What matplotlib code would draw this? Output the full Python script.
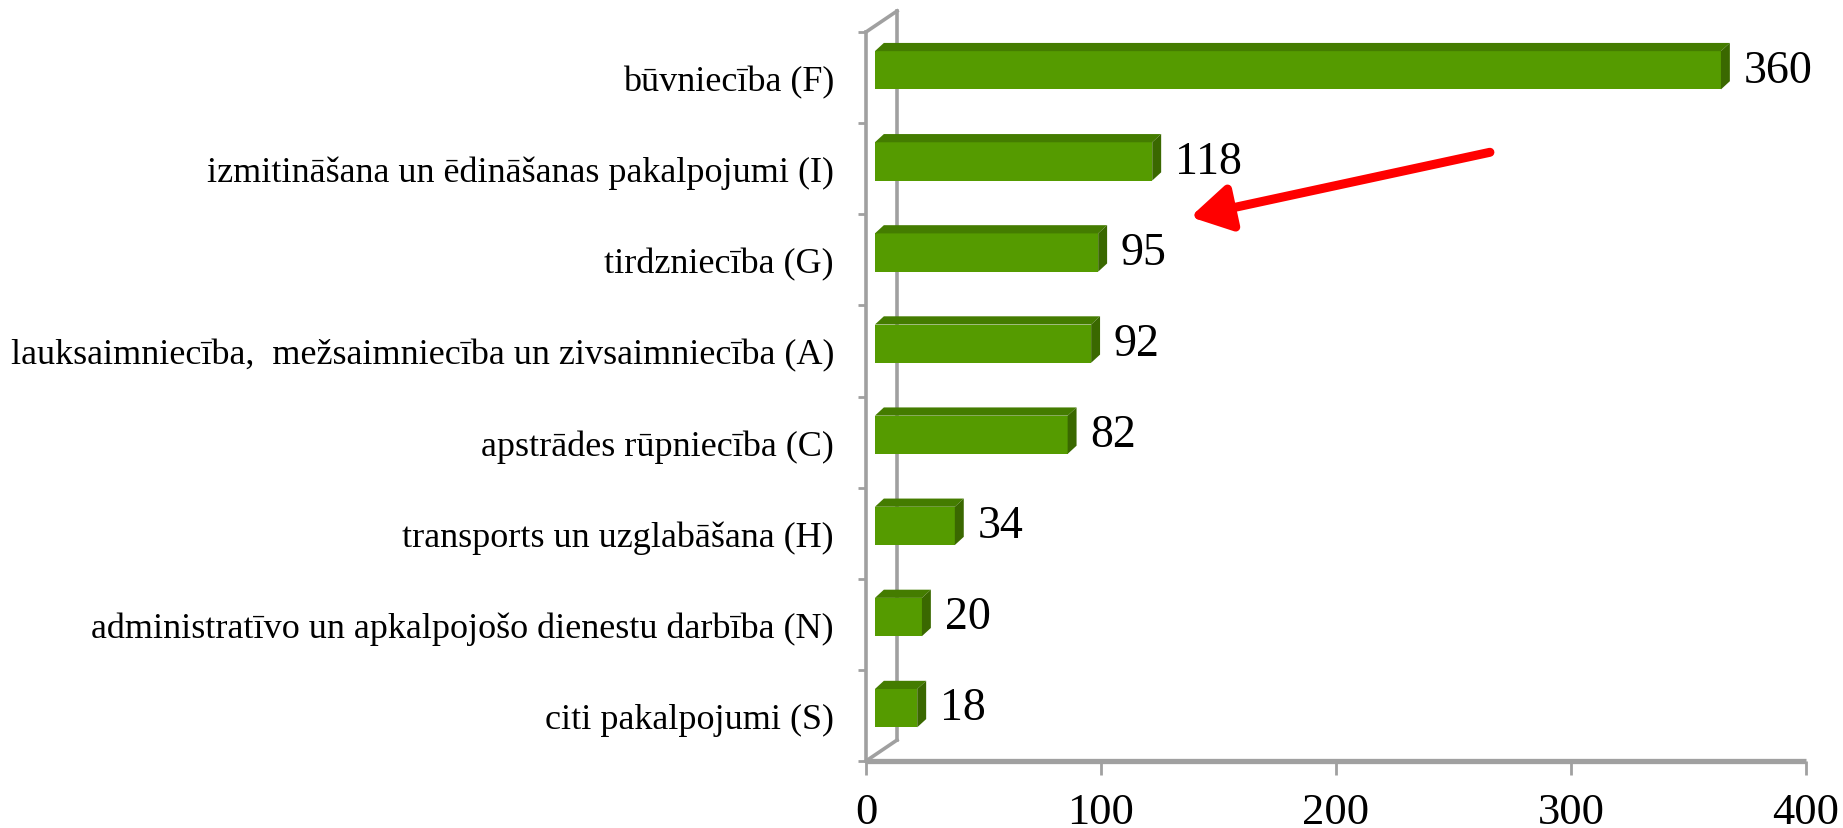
import matplotlib
matplotlib.use("Agg")
import matplotlib.pyplot as plt
from matplotlib.patches import Polygon, FancyArrowPatch

categories = [
    "būvniecība (F)",
    "izmitināšana un ēdināšanas pakalpojumi (I)",
    "tirdzniecība (G)",
    "lauksaimniecība,  mežsaimniecība un zivsaimniecība (A)",
    "apstrādes rūpniecība (C)",
    "transports un uzglabāšana (H)",
    "administratīvo un apkalpojošo dienestu darbība (N)",
    "citi pakalpojumi (S)",
]
values = [360, 118, 95, 92, 82, 34, 20, 18]
xticks = [0, 100, 200, 300, 400]

FRONT = "#559B00"
TOP = "#447C00"
SIDE = "#3A6800"
GREY = "#A0A0A0"
FONT = "Liberation Serif"

W, H = 1843, 829
fig = plt.figure(figsize=(W / 100, H / 100), dpi=100)
ax = fig.add_axes([866 / W, 1 - 762 / H, 940 / W, 729 / H])
ax.set_xlim(0, 400)
ax.set_ylim(7.5, -0.5)
for s in ax.spines.values():
    s.set_visible(False)

# depth offsets (data units)
wall_dx, wall_dy = 13.2, 0.23
bar_x0 = 3.8
bar_shift = 0.08
bar_h = 0.42
bdx, bdy = 3.8, 0.09

# walls / axes lines
n = len(categories)
ax.plot([0, 0], [-0.5, 7.5], color=GREY, lw=2.6, clip_on=False, zorder=2)
ax.plot([0, wall_dx], [-0.5, -0.5 - wall_dy], color=GREY, lw=2.6, clip_on=False, zorder=2)
ax.plot([wall_dx, wall_dx], [-0.5 - wall_dy, 7.5 - wall_dy], color=GREY, lw=2.6, clip_on=False, zorder=1)
ax.plot([0, wall_dx], [7.5, 7.5 - wall_dy], color=GREY, lw=2.6, clip_on=False, zorder=2)
ax.plot([0, 400], [7.5, 7.5], color=GREY, lw=3.8, clip_on=False, zorder=2, solid_capstyle="butt")

# bars
for i, v in enumerate(values):
    yc = i - bar_shift
    y0, y1 = yc - bar_h / 2, yc + bar_h / 2
    x0, x1 = bar_x0, bar_x0 + v
    ax.add_patch(Polygon([(x0, y1), (x1, y1), (x1, y0), (x0, y0)], closed=True,
                         facecolor=FRONT, edgecolor="none", zorder=3, clip_on=False))
    ax.add_patch(Polygon([(x0, y0), (x1, y0), (x1 + bdx, y0 - bdy), (x0 + bdx, y0 - bdy)],
                         closed=True, facecolor=TOP, edgecolor="none", zorder=3, clip_on=False))
    ax.add_patch(Polygon([(x1, y0), (x1 + bdx, y0 - bdy), (x1 + bdx, y1 - bdy), (x1, y1)],
                         closed=True, facecolor=SIDE, edgecolor="none", zorder=3, clip_on=False))
    ax.annotate(str(v), xy=(x1 + bdx, yc), xytext=(10, 0), textcoords="offset points",
                ha="left", va="center", fontsize=33, family=FONT, color="black",
                annotation_clip=False)

# ticks
ax.set_yticks([i - 0.5 for i in range(n + 1)])
ax.set_yticklabels([])
ax.set_yticks(list(range(n)), minor=True)
ax.set_yticklabels(categories, minor=True, fontsize=26, family=FONT)
ax.tick_params(axis="y", which="major", length=6, width=2, color=GREY, direction="out")
ax.tick_params(axis="y", which="minor", length=0, pad=23)
ax.set_xticks(xticks)
ax.set_xticklabels([str(t) for t in xticks], fontsize=32, family=FONT)
ax.tick_params(axis="x", length=10, width=2, color=GREY, pad=12)

# red arrow
arrow = FancyArrowPatch((265.5, 0.82), (138, 1.53), arrowstyle="-|>,head_length=12,head_width=7",
                        color="#FF0000", lw=6.5, mutation_scale=2.0, zorder=5, clip_on=False,
                        shrinkA=0, shrinkB=0)
ax.add_patch(arrow)

fig.savefig("out.png", dpi=100)
